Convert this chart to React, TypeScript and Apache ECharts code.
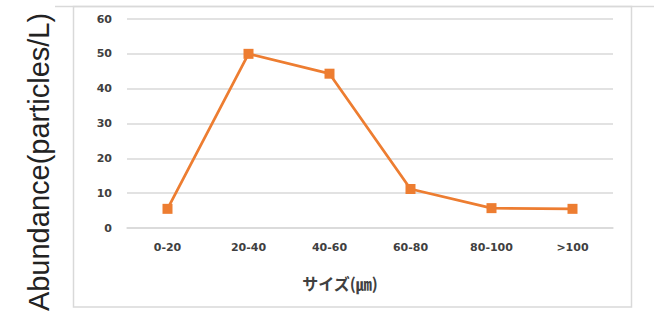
import React, { useEffect, useRef } from "react";
import * as echarts from "echarts";

// Particle size classes and abundance per class
const sizeClasses = ["0-20", "20-40", "40-60", "60-80", "80-100", ">100"];
const abundance = [5.5, 50, 44.3, 11.2, 5.7, 5.5];
const yTicks = { min: 0, max: 60, interval: 10 };

const yTitle = "Abundance(particles/L)";
const xTitle = "サイズ(㎛)";

export default function App() {
  const ref = useRef<HTMLDivElement>(null);

  useEffect(() => {
    if (!ref.current) return;
    const chart = echarts.init(ref.current, undefined, { renderer: "svg" });
    const lineColor = "#ED7D31";
    const frameColor = "#d9d9d9";
    const tickFont = {
      fontSize: 11,
      fontWeight: "bold",
      color: "#404040",
      fontFamily: "'DejaVu Sans', sans-serif",
    };
    chart.setOption({
      animation: false,
      backgroundColor: "#ffffff",
      grid: { left: 127, right: 41, top: 19, bottom: 92 },
      graphic: [
        {
          type: "line",
          shape: { x1: 55, y1: 6.5, x2: 654, y2: 6.5 },
          style: { stroke: frameColor, lineWidth: 1.5 },
          silent: true,
        },
        {
          type: "rect",
          shape: { x: 73.5, y: 6.5, width: 558, height: 300.5 },
          style: { fill: "none", stroke: frameColor, lineWidth: 1.5 },
          silent: true,
        },
        {
          type: "text",
          x: 39,
          y: 162,
          rotation: Math.PI / 2,
          style: {
            text: yTitle,
            font: "29px 'Liberation Sans', 'DejaVu Sans', sans-serif",
            fill: "#222222",
            align: "center",
            verticalAlign: "middle",
          },
          silent: true,
        },
        {
          type: "text",
          x: 340,
          y: 283,
          style: {
            text: xTitle,
            font: "bold 16px 'Noto Sans CJK JP', sans-serif",
            fill: "#404040",
            align: "center",
            verticalAlign: "middle",
          },
          silent: true,
        },
      ],
      xAxis: {
        type: "category",
        data: sizeClasses,
        boundaryGap: true,
        axisLine: { show: true, lineStyle: { color: "#d9d9d9", width: 1.5 } },
        axisTick: { show: false },
        axisLabel: { margin: 14, ...tickFont },
      },
      yAxis: {
        type: "value",
        min: yTicks.min,
        max: yTicks.max,
        interval: yTicks.interval,
        axisLine: { show: false },
        axisTick: { show: false },
        splitLine: { lineStyle: { color: "#d9d9d9", width: 1.5 } },
        axisLabel: { margin: 15, ...tickFont },
      },
      series: [
        {
          type: "line",
          data: abundance,
          symbol: "rect",
          symbolSize: 10,
          lineStyle: { color: lineColor, width: 2.75 },
          itemStyle: { color: lineColor },
        },
      ],
    });
    return () => chart.dispose();
  }, []);

  return (
    <div
      ref={ref}
      style={{ position: "fixed", left: 0, top: 0, width: 654, height: 320 }}
    />
  );
}
